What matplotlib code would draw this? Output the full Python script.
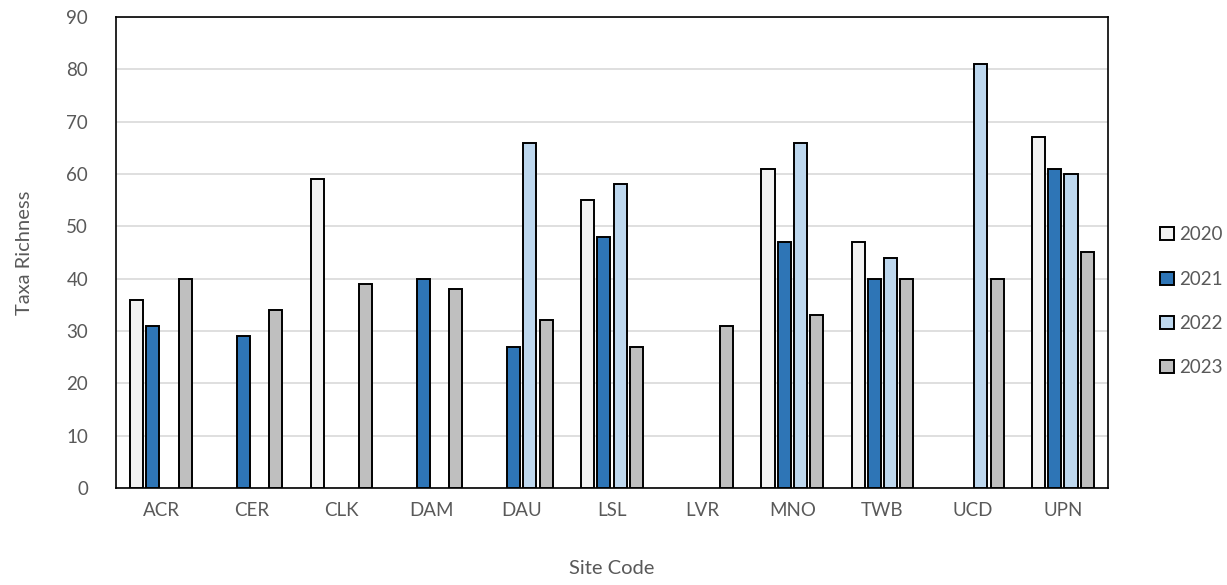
import numpy as np
import matplotlib.pyplot as plt

sites = ["ACR", "CER", "CLK", "DAM", "DAU", "LSL", "LVR", "MNO", "TWB", "UCD", "UPN"]
years = ["2020", "2021", "2022", "2023"]
y2020 = [36, np.nan, 59, np.nan, np.nan, 55, np.nan, 61, 47, np.nan, 67]
y2021 = [31, 29, np.nan, 40, 27, 48, np.nan, 47, 40, np.nan, 61]
y2022 = [np.nan, np.nan, np.nan, np.nan, 66, 58, np.nan, 66, 44, 81, 60]
y2023 = [40, 34, 39, 38, 32, 27, 31, 33, 40, 40, 45]

colors = ["#F2F2F2", "#2E75B6", "#BDD7EE", "#BFBFBF"]
text_col = "#595959"

plt.rcParams["font.family"] = ["Lato", "DejaVu Sans"]

fig = plt.figure(figsize=(12.27, 5.85), dpi=100)
ax = fig.add_axes([0.0945, 0.166, 0.8085, 0.805])

x = np.arange(len(sites))
slot = 0.18
width = 0.145
for i, (vals, c, yr) in enumerate(zip([y2020, y2021, y2022, y2023], colors, years)):
    ax.bar(x + (i - 1.5) * slot, vals, width=width, color=c, edgecolor="black",
           linewidth=1.4, label=yr, zorder=3)

ax.set_xlim(-0.5, len(sites) - 0.5)
ax.set_ylim(0, 90)
ax.set_yticks(range(0, 91, 10))
ax.set_xticks(x)
ax.set_xticklabels(sites)
ax.grid(axis="y", color="#D9D9D9", linewidth=1.2, zorder=0)
ax.tick_params(length=0, labelsize=13.5, labelcolor=text_col, pad=10)
ax.tick_params(axis="y", pad=20)
for s in ax.spines.values():
    s.set_color("black")
    s.set_linewidth(1.2)

ax.set_ylabel("Taxa Richness", fontsize=14.5, color=text_col, labelpad=24)
fig.text(0.4988, 0.018, "Site Code", fontsize=14.5, color=text_col, ha="center")

fig.legend(loc="center left", bbox_to_anchor=(0.932, 0.485), frameon=False,
           fontsize=13.5, labelcolor=text_col, handlelength=0.7, handleheight=0.7,
           handletextpad=0.3, labelspacing=1.45)

fig.savefig("out.png", dpi=100)
